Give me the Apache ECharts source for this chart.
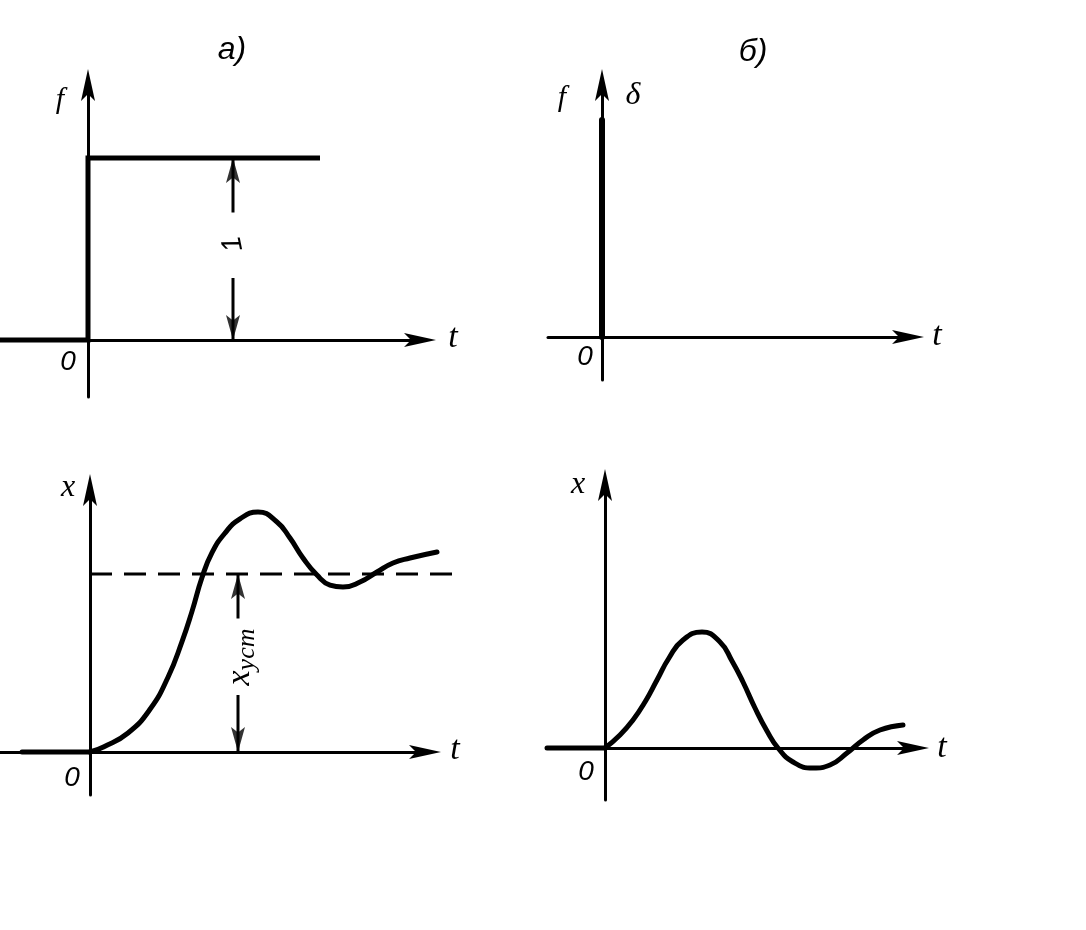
<!DOCTYPE html>
<html><head><meta charset="utf-8">
<script src="https://cdn.jsdelivr.net/npm/echarts@6/dist/echarts.min.js"></script>
<style>html,body{margin:0;padding:0;background:#fff}#c{width:1086px;height:930px}</style>
</head><body><div id="c"></div><script>
// ---- data ----
const panelTitles = ['a)', 'б)'];
const axisNamesTop = ['f', 'f', 'δ'];
const axisNameBottom = 'x';
const timeName = 't';
const originName = '0';
const stepLabel = '1';
const settledLabel = ['x', 'уст'];
// a) top: unit step input f(t)
const stepInput = [[-0.88, 0], [0, 0], [0, 1], [2.32, 1]];
const stepDimT = 1.45;
const stepDimUpper = [0.70, 1.0];
const stepDimLower = [0.34, 0.0];
// б) top: impulse input δ(t)
const impulseInput = [[0, 0], [0, 2.17]];
// a) bottom: step response x(t)
const stepResponseLead = [[-0.68, 0], [0, 0]];
const stepResponse = [[0, 0], [0.14, 0.03], [0.38, 0.107], [0.60, 0.24], [0.78, 0.42], [0.92, 0.62], [1.02, 0.79], [1.12, 0.98], [1.22, 1.12], [1.35, 1.23], [1.50, 1.31], [1.68, 1.348], [1.87, 1.292], [2.00, 1.202], [2.13, 1.090], [2.27, 0.994], [2.40, 0.938], [2.53, 0.927], [2.70, 0.955], [2.87, 1.011], [3.03, 1.062], [3.20, 1.090], [3.47, 1.124]];
const settleLevel = [[0, 1], [3.63, 1]];
const settleDimT = 1.48;
const settleDimUpper = [0.75, 1.0];
const settleDimLower = [0.32, 0.0];
// б) bottom: impulse response x(t)
const impulseResponseLead = [[-0.58, 0], [0, 0]];
const impulseResponse = [[0, 0], [0.15, 0.13], [0.28, 0.28], [0.40, 0.46], [0.52, 0.68], [0.64, 0.90], [0.78, 1.08], [0.97, 1.16], [1.15, 1.06], [1.27, 0.87], [1.38, 0.66], [1.50, 0.40], [1.62, 0.17], [1.73, 0.0], [1.88, -0.14], [2.08, -0.20], [2.25, -0.17], [2.42, -0.05], [2.58, 0.08], [2.75, 0.18], [2.98, 0.23]];
// axis ranges [xmin, xmax, ymin, ymax]
const rangesA1 = [-0.88, 3.32, -0.3132, 1.4011];
const rangesB1 = [-0.54, 3.06, -0.43, 2.52];
const rangesA2 = [-0.9, 3.35, -0.2416, 1.4719];
const rangesB2 = [-0.58, 3.08, -0.52, 2.63];
const rangesA2wide = [-0.9, 3.9, -0.2416, 1.4719];

// ---- chart ----
const ARROW = 'path://M7,0L14,32L7,25L0,32Z';
const INK = '#000';
function xAx(gi, r, hidden) {
  return { type: 'value', gridIndex: gi, min: r[0], max: r[1], show: !hidden,
    axisLine: { onZero: true, symbol: ['none', ARROW], symbolSize: [14, 32], lineStyle: { color: INK, width: 3 } },
    axisTick: { show: false }, axisLabel: { show: false }, splitLine: { show: false } };
}
function yAx(gi, r, hidden) {
  return { type: 'value', gridIndex: gi, min: r[2], max: r[3], show: !hidden,
    axisLine: { onZero: true, symbol: ['none', ARROW], symbolSize: [14, 32], lineStyle: { color: INK, width: 3 } },
    axisTick: { show: false }, axisLabel: { show: false }, splitLine: { show: false } };
}
function line(gi, data, width, extra) {
  return Object.assign({ type: 'line', xAxisIndex: gi, yAxisIndex: gi, data: data, symbol: 'none',
    clip: false, silent: true, animation: false,
    lineStyle: { color: INK, width: width, cap: 'round', join: 'round' } }, extra || {});
}
function dimArrow(gi, t, seg, up) {
  const tip = [t, seg[1]];
  return [
    line(gi, [[t, seg[0]], tip], 3, { lineStyle: { color: INK, width: 3 } }),
    { type: 'scatter', xAxisIndex: gi, yAxisIndex: gi, data: [tip], symbol: ARROW, symbolSize: [14, 25],
      symbolRotate: up ? 0 : 180, symbolOffset: [0, up ? '50%' : '-50%'], itemStyle: { color: INK },
      silent: true, animation: false, clip: false }
  ];
}
const serif = '"Liberation Serif", "DejaVu Serif", serif';
const sans = '"Liberation Sans", "DejaVu Sans", sans-serif';
function txt(x, y, s, font, rot) {
  return { type: 'text', x: x, y: y, rotation: rot || 0, silent: true,
    style: { text: s, font: font, fill: INK, align: 'center', verticalAlign: 'middle' } };
}
const option = {
  backgroundColor: '#fff',
  animation: false,
  grid: [
    { left: 0, top: 85, width: 420, height: 312 },
    { left: 548, top: 85, width: 360, height: 295 },
    { left: 0, top: 490, width: 425, height: 305 },
    { left: 547, top: 485, width: 366, height: 315 },
    { left: 0, top: 490, width: 480, height: 305 }
  ],
  xAxis: [xAx(0, rangesA1), xAx(1, rangesB1), xAx(2, rangesA2), xAx(3, rangesB2), xAx(4, rangesA2wide, true)],
  yAxis: [yAx(0, rangesA1), yAx(1, rangesB1), yAx(2, rangesA2), yAx(3, rangesB2), yAx(4, rangesA2wide, true)],
  series: [
    line(0, stepInput, 5, { lineStyle: { color: INK, width: 5, join: 'miter' } }),
    ...dimArrow(0, stepDimT, stepDimUpper, true),
    ...dimArrow(0, stepDimT, stepDimLower, false),
    line(1, impulseInput, 6),
    line(2, stepResponseLead, 5),
    line(4, stepResponse, 5, { smooth: 0.5 }),
    line(4, settleLevel, 3, { lineStyle: { color: INK, width: 3, type: [22, 12] } }),
    ...dimArrow(2, settleDimT, settleDimUpper, true),
    ...dimArrow(2, settleDimT, settleDimLower, false),
    line(3, impulseResponseLead, 5),
    line(3, impulseResponse, 5, { smooth: 0.5 })
  ],
  graphic: [
    txt(232, 50, panelTitles[0], 'italic 32px ' + sans),
    txt(753, 52, panelTitles[1], 'italic 32px ' + sans),
    txt(60, 100, axisNamesTop[0], 'italic 30px ' + serif),
    txt(68, 362, originName, 'italic 28px ' + sans),
    txt(453, 338, timeName, 'italic 34px ' + serif),
    txt(233, 244, stepLabel, 'italic 28px ' + sans, Math.PI / 2 + 0.2),
    txt(562, 98, axisNamesTop[1], 'italic 30px ' + serif),
    txt(633, 96, axisNamesTop[2], 'italic 32px ' + serif),
    txt(585, 357, originName, 'italic 28px ' + sans),
    txt(937, 336, timeName, 'italic 34px ' + serif),
    txt(68, 488, axisNameBottom, 'italic 32px ' + serif),
    txt(72, 778, originName, 'italic 28px ' + sans),
    txt(455, 750, timeName, 'italic 34px ' + serif),
    { type: 'text', x: 240, y: 657, rotation: Math.PI / 2, silent: true,
      style: { text: '{a|' + settledLabel[0] + '}{b|' + settledLabel[1] + '}', align: 'center', verticalAlign: 'middle',
        rich: { a: { font: 'italic 34px ' + serif, fill: INK }, b: { font: 'italic 26px ' + serif, fill: INK, padding: [14, 0, 0, 0] } } } },
    txt(578, 485, axisNameBottom, 'italic 32px ' + serif),
    txt(586, 772, originName, 'italic 28px ' + sans),
    txt(942, 748, timeName, 'italic 34px ' + serif)
  ]
};
const chart = echarts.init(document.getElementById('c'), null, { renderer: 'canvas' });
chart.setOption(option);
</script></body></html>
